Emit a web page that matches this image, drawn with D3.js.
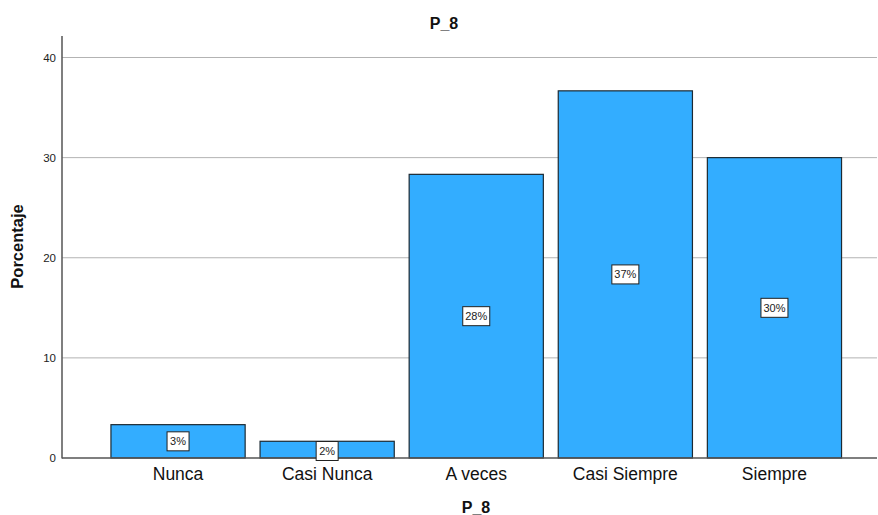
<!DOCTYPE html>
<html>
<head>
<meta charset="utf-8">
<script src="https://cdn.jsdelivr.net/npm/d3@7"></script>
<style>
  body { margin: 0; background: #fff; }
  svg { display: block; font-family: Arial, "Liberation Sans", sans-serif; }
</style>
</head>
<body>
<svg id="chart" width="878" height="515"></svg>
<script>
const categories = ["Nunca", "Casi Nunca", "A veces", "Casi Siempre", "Siempre"];
const values = [3.33, 1.67, 28.33, 36.67, 30.0];
const valueLabels = ["3%", "2%", "28%", "37%", "30%"];
const yTicks = [0, 10, 20, 30, 40];
const title = "P_8";
const xTitle = "P_8";
const yTitle = "Porcentaje";

const svg = d3.select("#chart");
const axisLeft = 62, axisRight = 877, axisTop = 36;

const y = d3.scaleLinear().domain([0, 40]).range([458, 57.5]);
const x = d3.scaleBand().domain(categories).range([103.5, 849]).paddingInner(0.1).paddingOuter(0.05);

// gridlines
svg.append("g").selectAll("line").data(yTicks.filter(d => d > 0)).join("line")
  .attr("x1", axisLeft).attr("x2", axisRight)
  .attr("y1", d => y(d)).attr("y2", d => y(d))
  .attr("stroke", "#b3b3b3").attr("stroke-width", 1);

// y tick labels
svg.append("g").selectAll("text").data(yTicks).join("text")
  .attr("x", 56).attr("y", d => y(d)).attr("dy", "0.35em")
  .attr("text-anchor", "end").attr("font-size", 11.5).attr("fill", "#222")
  .text(d => d);

// bars
svg.append("g").selectAll("rect").data(values).join("rect")
  .attr("x", (d, i) => x(categories[i]))
  .attr("width", x.bandwidth())
  .attr("y", d => y(d))
  .attr("height", d => y(0) - y(d))
  .attr("fill", "#33adff")
  .attr("stroke", "#1c2a33").attr("stroke-width", 1.2);

// axes lines
svg.append("line").attr("x1", axisLeft).attr("x2", axisLeft).attr("y1", axisTop).attr("y2", 458.5)
  .attr("stroke", "#555").attr("stroke-width", 1.5);
svg.append("line").attr("x1", axisLeft).attr("x2", axisRight).attr("y1", 458).attr("y2", 458)
  .attr("stroke", "#555").attr("stroke-width", 1.5);

// value labels
const lab = svg.append("g").selectAll("g").data(values).join("g")
  .attr("transform", (d, i) => {
    const cx = x(categories[i]) + x.bandwidth() / 2;
    let cy = (y(d) + y(0)) / 2;
    if (i === 1) cy = 451;
    return `translate(${cx},${cy})`;
  });
lab.append("rect")
  .attr("x", (d, i) => valueLabels[i].length > 2 ? -13.5 : -11)
  .attr("width", (d, i) => valueLabels[i].length > 2 ? 27 : 22)
  .attr("y", -9.5).attr("height", 19)
  .attr("fill", "#fff").attr("stroke", "#222").attr("stroke-width", 1);
lab.append("text")
  .attr("text-anchor", "middle").attr("dy", "0.35em")
  .attr("font-size", 11).attr("fill", "#222")
  .text((d, i) => valueLabels[i]);

// category labels
svg.append("g").selectAll("text").data(categories).join("text")
  .attr("x", d => x(d) + x.bandwidth() / 2).attr("y", 480)
  .attr("text-anchor", "middle").attr("font-size", 17.5).attr("fill", "#111")
  .text(d => d);

// titles
svg.append("text").attr("x", 444).attr("y", 28.5).attr("text-anchor", "middle")
  .attr("font-size", 16).attr("font-weight", "bold").attr("fill", "#111").text(title);
svg.append("text").attr("x", 476).attr("y", 513).attr("text-anchor", "middle")
  .attr("font-size", 16).attr("font-weight", "bold").attr("fill", "#111").text(xTitle);
svg.append("text").attr("transform", "translate(22.5,246.5) rotate(-90)").attr("text-anchor", "middle")
  .attr("font-size", 16.5).attr("font-weight", "bold").attr("fill", "#111").text(yTitle);
</script>
</body>
</html>
